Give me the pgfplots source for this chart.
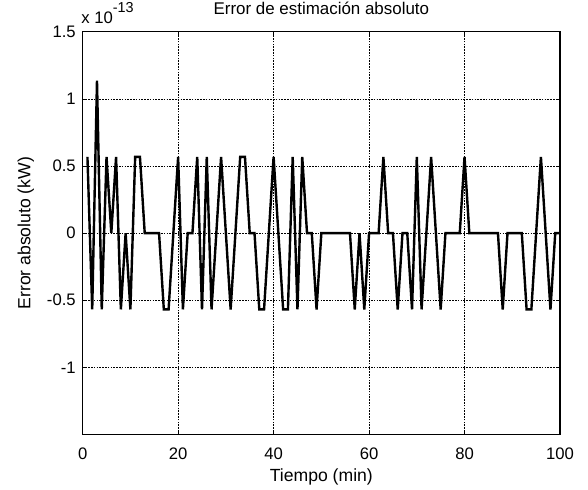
\documentclass[border=0pt]{standalone}
\usepackage{fontspec}
\setmainfont{Liberation Sans}
\usepackage{pgfplots}
\usepackage{pgfplotstable}
\pgfplotsset{compat=1.18}

% error absoluto por minuto (kW)
\pgfplotstableread{
t e
1 5.6843e-14
2 -5.6843e-14
3 1.1369e-13
4 -5.6843e-14
5 5.6843e-14
6 0
7 5.6843e-14
8 -5.6843e-14
9 0
10 -5.6843e-14
11 5.6843e-14
12 5.6843e-14
13 0
14 0
15 0
16 0
17 -5.6843e-14
18 -5.6843e-14
19 0
20 5.6843e-14
21 -5.6843e-14
22 0
23 0
24 5.6843e-14
25 -5.6843e-14
26 5.6843e-14
27 -5.6843e-14
28 0
29 5.6843e-14
30 0
31 -5.6843e-14
32 0
33 5.6843e-14
34 5.6843e-14
35 0
36 0
37 -5.6843e-14
38 -5.6843e-14
39 0
40 5.6843e-14
41 0
42 -5.6843e-14
43 -5.6843e-14
44 5.6843e-14
45 -5.6843e-14
46 5.6843e-14
47 0
48 0
49 -5.6843e-14
50 0
51 0
52 0
53 0
54 0
55 0
56 0
57 -5.6843e-14
58 0
59 -5.6843e-14
60 0
61 0
62 0
63 5.6843e-14
64 0
65 0
66 -5.6843e-14
67 0
68 0
69 -5.6843e-14
70 5.6843e-14
71 -5.6843e-14
72 0
73 5.6843e-14
74 0
75 -5.6843e-14
76 0
77 0
78 0
79 0
80 5.6843e-14
81 0
82 0
83 0
84 0
85 0
86 0
87 0
88 -5.6843e-14
89 0
90 0
91 0
92 0
93 -5.6843e-14
94 -5.6843e-14
95 0
96 5.6843e-14
97 0
98 -5.6843e-14
99 0
100 0
}\errtab

\begin{document}
\begin{tikzpicture}
% page = 588x489 px at 0.75pt/px, axis box lower left at (0,0)
\useasboundingbox (-62pt,-40.9pt) rectangle ++(441pt,366.75pt);
\begin{axis}[
at={(0,0)}, anchor=south west,
scale only axis,
width=358pt, height=302pt,
xmin=0, xmax=100,
ymin=-1.5e-13, ymax=1.5e-13,
xtick={0,20,40,60,80,100},
ytick={-1e-13,-0.5e-13,0,0.5e-13,1e-13,1.5e-13},
scaled y ticks=base 10:13,
ytick scale label code/.code={x 10\raisebox{8.5pt}{\fontsize{10.8}{12}\selectfont #1}},
every y tick scale label/.style={at={(rel axis cs:0,1)}, anchor=base west, inner sep=0pt, xshift=0.5pt, yshift=6pt, font=\fontsize{12.5}{14}\selectfont},
/pgf/number format/assume math mode=true,
grid=major,
major grid style={black, line width=0.5pt, dash pattern=on 1.2pt off 0.9pt},
tick align=inside,
major tick length=3pt,
axis line style={line width=0.8pt},
tick style={black, line width=0.6pt},
tick label style={font=\fontsize{12.5}{14}\selectfont},
yticklabel style={xshift=-1.7pt},
xticklabel style={anchor=base, yshift=-18.4pt},
xlabel={Tiempo (min)},
ylabel={Error absoluto (kW)},
xlabel style={at={(axis description cs:0.5,0)}, anchor=base, yshift=-35.6pt, inner sep=0pt, font=\fontsize{13.2}{15}\selectfont},
ylabel style={at={(axis description cs:-0.1094,0.5)}, anchor=base, inner sep=0pt, font=\fontsize{13.2}{15}\selectfont},
title={Error de estimación absoluto},
every axis title shift=0pt,
title style={at={(axis description cs:0.5,1)}, anchor=base, yshift=13pt, inner sep=0pt, font=\fontsize{12.7}{14}\selectfont},
]
\addplot[black, line width=1.8pt] table[x=t, y=e] {\errtab};
\end{axis}
\end{tikzpicture}
\end{document}
